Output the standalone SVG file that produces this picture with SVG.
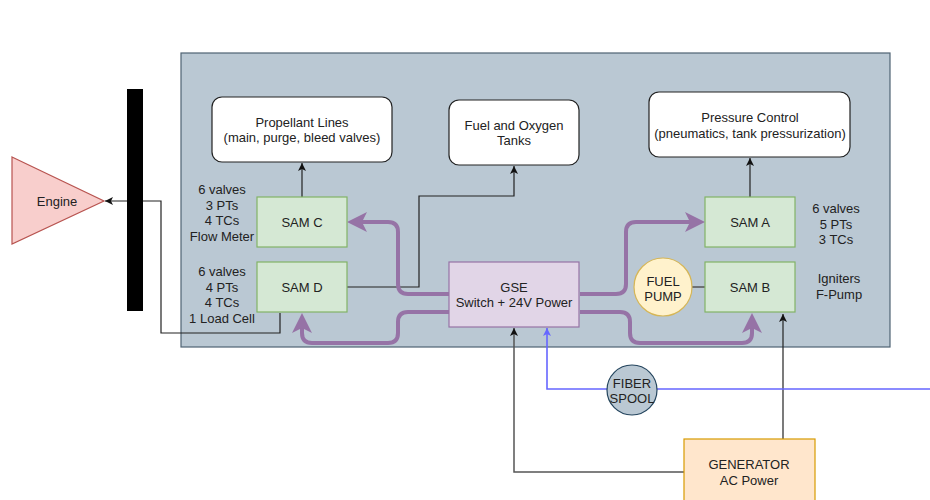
<svg xmlns="http://www.w3.org/2000/svg" width="930" height="500" viewBox="0 0 930 500">
<defs>
<style>
text{font-family:"Liberation Sans",Arial,sans-serif;font-size:13px;fill:#222;text-anchor:middle;dominant-baseline:central}
.sam{fill:#d5e8d4;stroke:#82b366;stroke-width:1.2}
.wb{fill:#fff;stroke:#222;stroke-width:1.2}
.blk{fill:none;stroke:#222;stroke-width:1.2}
.gry{fill:none;stroke:#555;stroke-width:1.5}
.pur{fill:none;stroke:#9673a6;stroke-width:4;stroke-linejoin:round}
.blu{fill:none;stroke:#6666ff;stroke-width:1.6}
</style>
<marker id="ab" markerUnits="userSpaceOnUse" viewBox="0 0 8 8" markerWidth="8" markerHeight="8" refX="8" refY="4" orient="auto"><path d="M0,0 L8,4 L0,8 L2,4 Z" fill="#111"/></marker>
<marker id="abl" markerUnits="userSpaceOnUse" viewBox="0 0 8 8" markerWidth="8" markerHeight="8" refX="8" refY="4" orient="auto"><path d="M0,0 L8,4 L0,8 L2,4 Z" fill="#6666ff"/></marker>
<marker id="ap" markerUnits="userSpaceOnUse" viewBox="0 0 20 20" markerWidth="20" markerHeight="20" refX="9" refY="10" orient="auto"><path d="M0,0 L20,10 L0,20 L5,10 Z" fill="#9673a6"/></marker>
</defs>
<rect width="930" height="500" fill="#fff"/>
<g id="container"><rect x="181" y="53" width="709" height="294" fill="#bac8d3" stroke="#4f6373" stroke-width="1.2"/></g>
<g id="connectors">
<path class="blk" d="M280,313 V333 H161 V201 H105" marker-end="url(#ab)"/>
<path class="blk" d="M302,197 V163" marker-end="url(#ab)"/>
<path class="blk" d="M750,197 V158" marker-end="url(#ab)"/>
<path class="blk" d="M347,287 H419 V196 H514 V166" marker-end="url(#ab)"/>
<path class="gry" d="M705,287 H692"/>
<path class="blk" d="M783,439 V314" marker-end="url(#ab)"/>
<path class="gry" d="M684,472 H514 V328" marker-end="url(#ab)"/>
<path class="blu" d="M930,389 H547 V328" marker-end="url(#abl)"/>
<path class="pur" d="M449,294 H408 Q398,294 398,284 V232 Q398,222 388,222 H358" marker-end="url(#ap)"/>
<path class="pur" d="M449,312 H408 Q398,312 398,322 V333 Q398,343 388,343 H312 Q302,343 302,333 V324" marker-end="url(#ap)"/>
<path class="pur" d="M580,294 H616 Q626,294 626,284 V232 Q626,222 636,222 H694" marker-end="url(#ap)"/>
<path class="pur" d="M580,312 H620 Q630,312 630,322 V333 Q630,343 640,343 H742 Q752,343 752,333 V324" marker-end="url(#ap)"/>
</g>
<g id="bar"><rect x="127" y="89" width="16" height="222" fill="#000"/></g>
<g id="engine"><polygon points="12,157 104,201 12,244" fill="#f8cecc" stroke="#b85450" stroke-width="1.2"/><text x="57" y="201">Engine</text></g>
<g id="propellant"><rect class="wb" x="212" y="97" width="180" height="65" rx="10"/><text x="302" y="122">Propellant Lines</text><text x="302" y="137">(main, purge, bleed valves)</text></g>
<g id="tanks"><rect class="wb" x="449" y="100" width="130" height="65" rx="10"/><text x="514" y="125">Fuel and Oxygen</text><text x="514" y="140">Tanks</text></g>
<g id="pressure"><rect class="wb" x="649" y="92" width="201" height="65" rx="10"/><text x="750" y="117">Pressure Control</text><text x="750" y="133">(pneumatics, tank pressurization)</text></g>
<g id="samc"><rect class="sam" x="257" y="197" width="90" height="50"/><text x="302" y="222">SAM C</text></g>
<g id="samd"><rect class="sam" x="257" y="262" width="90" height="50"/><text x="302" y="287">SAM D</text></g>
<g id="sama"><rect class="sam" x="705" y="197" width="90" height="50"/><text x="750" y="222">SAM A</text></g>
<g id="samb"><rect class="sam" x="705" y="262" width="90" height="50"/><text x="750" y="287">SAM B</text></g>
<g id="gse"><rect x="449" y="262" width="130" height="65" fill="#e1d5e7" stroke="#9673a6" stroke-width="1.2"/><text x="514" y="287">GSE</text><text x="514" y="302">Switch + 24V Power</text></g>
<g id="fuelpump"><circle cx="663" cy="287" r="29" fill="#fff2cc" stroke="#d6b656" stroke-width="1.2"/><text x="663" y="281">FUEL</text><text x="663" y="296">PUMP</text></g>
<g id="fiber"><circle cx="632" cy="390" r="25" fill="#bac8d3" stroke="#23445d" stroke-width="1.2"/><text x="632" y="383">FIBER</text><text x="632" y="398">SPOOL</text></g>
<g id="generator"><rect x="684" y="439" width="131" height="70" fill="#ffe6cc" stroke="#d79b00" stroke-width="1.2"/><text x="749" y="464">GENERATOR</text><text x="749" y="480">AC Power</text></g>
<g id="labels">
<text x="222" y="189">6 valves</text><text x="222" y="205">3 PTs</text><text x="222" y="220">4 TCs</text><text x="222" y="236">Flow Meter</text>
<text x="222" y="271">6 valves</text><text x="222" y="287">4 PTs</text><text x="222" y="302">4 TCs</text><text x="222" y="318">1 Load Cell</text>
<text x="836" y="208">6 valves</text><text x="836" y="224">5 PTs</text><text x="836" y="239">3 TCs</text>
<text x="839" y="278">Igniters</text><text x="839" y="294">F-Pump</text>
</g>
</svg>
